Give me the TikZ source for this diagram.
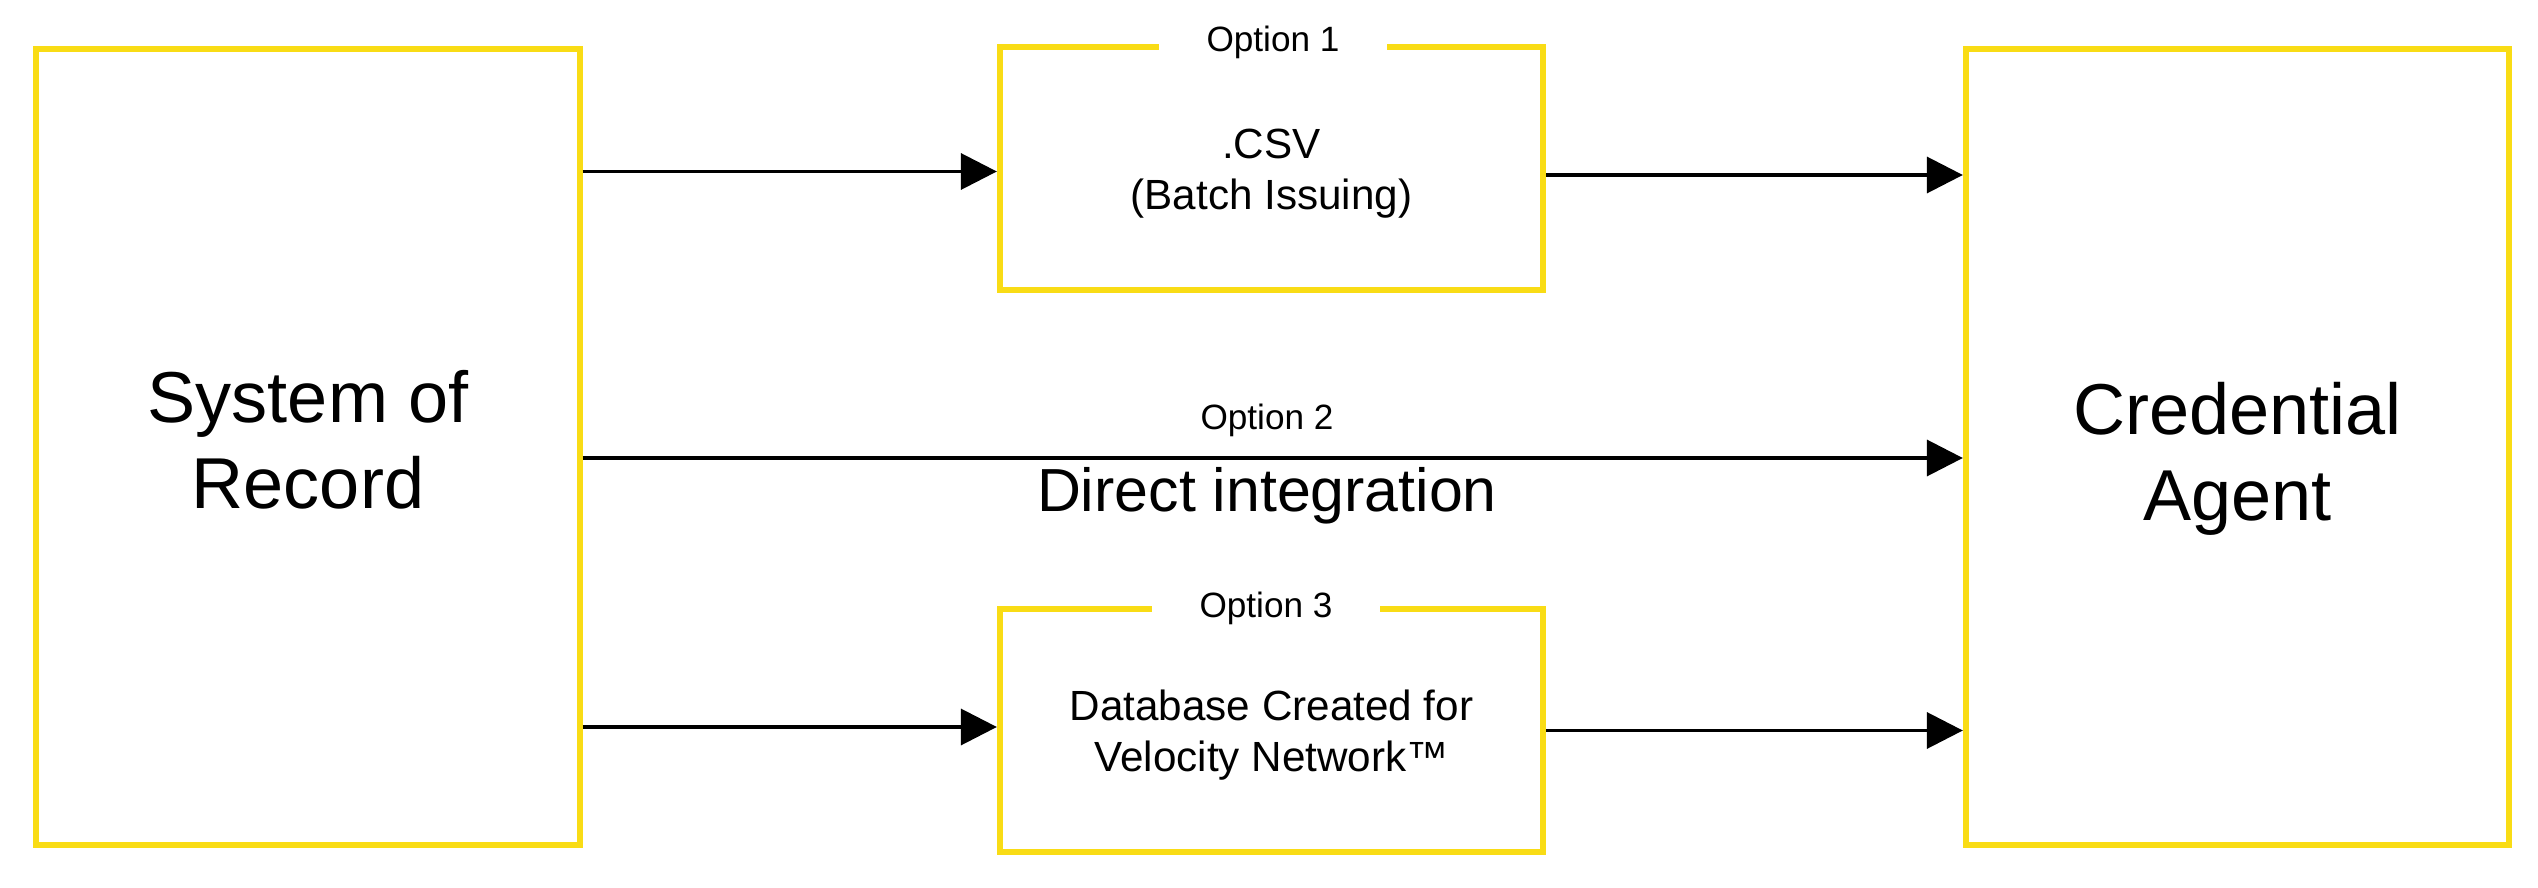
\documentclass[tikz,border=0pt]{standalone}
\usepackage{fontspec}
\setsansfont{Liberation Sans}
\usepackage{tikz}
\usetikzlibrary{arrows.meta, calc, positioning}
\definecolor{vYellow}{RGB}{249,220,21}

\begin{document}
\begin{tikzpicture}[x=0.01cm, y=-0.01cm]

    % Sans-serif text
    \sffamily

    % Page frame
    \useasboundingbox (0, 0) rectangle (2538, 888);

    % Boxes
    \tikzset{bB/.style={draw=vYellow, line width=1.7pt, inner sep=0pt, align=center, minimum width=5.43cm, minimum height=7.96cm, font=\fontsize{20.5}{24.5}\selectfont}}
    \tikzset{oB/.style={bB, minimum height=2.43cm, text height=26pt, text depth=2.9pt, font=\fontsize{12}{14.5}\selectfont}}

    % Labels
    \tikzset{oL/.style={fill=white, inner sep=1pt, minimum width=2.28cm, font=\fontsize{10}{12}\selectfont}}
    \tikzset{dL/.style={inner sep=0pt, font=\fontsize{17.3}{20}\selectfont}}

    % Arrows
    \tikzset{pA/.style={draw=black, line width=1pt, -{Triangle[length=10.2pt, width=10.2pt]}}}

    % Main nodes
    \node (sor) [bB, text height=40pt, text depth=5.2pt] at (308, 447) {System of\\Record};
    \node (ag) [bB, text height=46pt, text depth=4.2pt] at (2237.5, 447) {Credential\\Agent};
    \node (o1) [oB] at (1271.5, 168.5) {.CSV\\(Batch Issuing)};
    \node (o3) [oB] at (1271.5, 730.5) {Database Created for\\Velocity Network™};

    % Option labels
    \node (l1) [oL] at (1273, 42) {Option 1};
    \node (l2) [oL, fill=none] at (1267, 420) {Option 2};
    \node (l3) [oL] at (1266, 608) {Option 3};
    \node (di) [dL] at (1267, 496) {Direct integration};

    % Connectors
    \path[pA] ($(sor.east |- o1.west) + (0, 3)$) -- ($(o1.west) + (0, 3)$);
    \path[pA] ($(o1.east) + (0, 6.5)$) -- ($(ag.west |- o1.east) + (0, 6.5)$);
    \path[pA] ($(sor.east) + (0, 11)$) -- ($(ag.west) + (0, 11)$);
    \path[pA] ($(sor.east |- o3.west) + (0, -3.5)$) -- ($(o3.west) + (0, -3.5)$);
    \path[pA] (o3.east) -- (ag.west |- o3.east);

\end{tikzpicture}
\end{document}
